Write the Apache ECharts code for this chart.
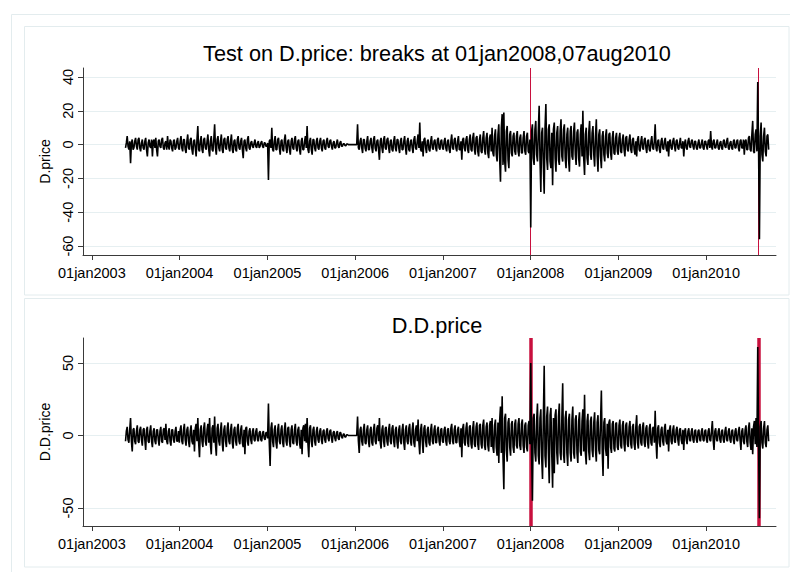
<!DOCTYPE html>
<html><head><meta charset="utf-8">
<script src="https://cdn.jsdelivr.net/npm/echarts@6/dist/echarts.min.js"></script>
<style>html,body{margin:0;padding:0;background:#fff}#c{width:790px;height:572px}</style>
</head><body><div id="c"></div>
<script>
// ---- data (samples every 3.5 days, starting 2003-05-21) ----
const startDate = [2003, 4, 21];
const stepDays = 3.5;

const dp2003 = [-2,1,5,-1,-3,2,-11,1,3,-3,-2,2,4,-1,-3,3,4,-2,-4,1,3,-2,-3,2,4,-3,-7,1,3,-1,-2,3,-7,2,3,-2,4,-3,-7,2,3,-1,-2,3,4,-2,-3,1,2,-3,5,-1,-3,3,2,-2,-4,2,3,-3,-2,2,4,-2];
const dp2004 = [-3,2,5,-2,-4,3,3,-3,-5,2,6,-2,-3,3,4,-3,-6,2,3,-2,-7,3,11,-3,-4,2,5,-3,-5,3,4,-2,-3,2,6,-3,-7,2,5,-3,-4,3,12,-2,-6,3,5,-2,-4,2,6,-3,-5,3,4,-2,-3,3,5,-2,-4,2,6,-3,-5,2,3,-3,-4,3,5,-2,-3,2,4,-3,-8,2,3,-2,-4,3,5,-2,-3,1,2,-1,-2,1,3,-1,-2,1,2,-2,-1,1,2,-1,-2,1,1,-1,-1,1];
const dp2005 = [-21,2,3,-2,10,-3,-4,2,5,-3,-3,3,4,-2,-6,2,3,-3,-4,3,6,-2,-5,2,3,-3,-6,2,4,-2,-3,3,5,-2,-4,2,3,-3,-6,2,4,-3,-3,2,5,-2,11,-3,-5,2,4,-3,-6,3,3,-2,-4,2,4,-2,-3,2,4,-2,-4,2,3,-2,-3,2,4,-1,-2,2,3,-1,-3,1,2,-2,-2,1,3,-1,-2,1,2,-1,-1,0.5,0.5,-0.4,-0.8,0.3,0.4,0,0,0,0,0,0,0,0,0];
const dp2006 = [0,0,12,-2,-3,2,4,-2,-5,3,3,-2,-4,2,5,-3,-3,2,4,-2,-5,3,5,-2,-4,2,3,-3,-9,2,4,-2,-5,3,5,-2,-3,3,4,-2,-5,2,3,-3,-4,2,5,-2,-4,3,3,-2,-5,2,4,-3,-3,2,5,-2,-6,2,4,-3,-4,2,3,-2,-5,3,5,-2,-3,2,6,-2,13,-3,-4,2,-7,3,4,-2,-5,2,3,-3,-4,2,5,-2,-3,2,3,-2,-4,3,4,-2,-3,2,3,-2];
const dp2007 = [-3,2,4,-2,-4,2,3,-3,-5,2,6,-2,-3,3,4,-2,-4,2,5,-3,-3,2,-9,3,4,-2,-4,3,5,-3,-5,3,6,-3,-4,4,7,-3,-6,4,5,-4,-7,3,6,-4,-5,4,8,-3,-6,4,7,-5,-8,4,6,-4,10,-5,-7,5,9,-6,-10,6,12,-8,-22,10,18,-12,19,-10,-16,8,11,-9,-14,6,8,-5,-7,5,7,-4,-6,5,8,-4,-7,4,6,-5,-5,4,8,-4,-6,5,7,-4,-5,3];
const dp2008 = [-49,8,12,-8,-12,9,14,-6,-10,8,23,-9,-28,7,10,-12,-29,10,24,-8,-15,9,12,-10,-14,7,-24,9,13,-8,-16,7,11,-9,-12,8,15,-7,-10,9,12,-8,-14,6,10,-9,-16,8,11,-7,-9,8,13,-6,-12,7,9,-8,-13,6,12,-7,20,-8,-18,6,10,-8,-12,7,14,-6,-9,7,11,-6,-13,5,15,-7,-16,6,9,-7,-14,5,8,-6,-10,5,9,-5,-8,6,7,-5,-9,4,8,-5,-6,4,7,-4];
const dp2009 = [-6,4,7,-4,-5,3,6,-3,-7,4,5,-3,-4,3,6,-3,-5,3,4,-3,-6,2,-7,3,5,-3,-4,2,5,-2,-3,3,4,-2,-5,2,3,-3,-4,2,5,-2,-3,2,12,-2,-4,2,3,-3,-5,2,4,-2,-3,2,4,-2,-4,2,-7,2,3,-2,-3,2,4,-1,-4,2,3,-2,-3,1,4,-2,-2,2,-7,1,3,-2,-3,2,4,-1,-2,2,3,-1,-3,2,2,-2,-3,1,3,-2,-2,1,3,-2,-3,2];
const dp2010 = [2,-1,-3,2,3,-2,8,-1,-3,2,3,-2,-2,1,3,-2,-3,1,2,-2,-3,2,3,-1,-2,2,4,-2,-3,1,2,-2,-3,2,3,-2,-2,2,3,-2,-4,2,3,-2,-2,3,-6,2,3,-3,-3,4,5,-3,-4,6,14,-4,-5,6,9,-4,37,-3,-56,5,13,-6,-10,5,10,-4,-7,5,6,-3];

const ddp2003 = [-4,3,6,-3,-5,4,12,-4,-11,4,5,-4,-6,3,7,-4,-5,4,6,-3,-7,4,5,-3,-10,4,6,-4,-5,3,7,-4,-8,3,5,-4,-6,4,4,-3,-7,3,6,-4,-5,4,5,-3,8,-4,-6,3,5,-4,-7,4,4,-3,-5,3,6,-4,-4,3];
const ddp2004 = [-5,4,7,-4,-6,4,8,-3,-7,4,6,-4,-8,3,7,-4,-6,4,-11,5,8,-4,12,-5,-15,4,7,-4,-8,5,9,-4,-7,4,8,-5,12,-6,-13,5,7,-5,13,-6,-14,5,8,-4,-7,4,9,-5,-11,4,7,-4,-8,5,9,-4,-6,4,8,-5,-9,4,6,-4,-7,5,8,-4,-6,4,7,-5,-8,4,-13,5,6,-4,-7,3,5,-3,-6,3,5,-3,-4,3,5,-3,-4,2,3,-3,-4,2,3,-2,-3,2,2,-2];
const ddp2005 = [22,-5,-21,5,9,-4,-8,4,7,-5,-9,4,8,-4,-6,4,7,-5,-8,4,9,-4,-7,5,6,-4,-8,4,7,-5,-6,4,8,-4,-7,4,6,-5,-9,4,-13,5,7,-4,8,-5,12,-6,-15,5,7,-4,-8,4,6,-4,-7,3,6,-3,-5,3,5,-3,-6,3,4,-3,-5,3,5,-2,-4,3,4,-2,-5,2,3,-2,-4,2,3,-2,-3,2,2,-1,-2,1,1,-1,-1,0.5,0.5,0,0,0,0,0,0,0,0,0];
const ddp2006 = [0,0,13,-4,-12,4,6,-4,-7,4,8,-5,-6,4,7,-4,-8,4,6,-5,-7,4,8,-4,-6,5,7,-4,12,-5,-9,4,7,-4,-8,5,6,-4,-7,4,8,-4,-6,5,7,-4,-8,4,6,-5,-9,4,7,-4,-6,4,8,-5,-10,4,7,-4,-6,5,8,-4,-7,4,9,-5,-8,4,7,-4,11,-5,-13,4,8,-4,-12,5,7,-4,-8,4,6,-5,-7,4,8,-4,-6,4,7,-5,-5,4,6,-4,-7,4,5,-4];
const ddp2007 = [-5,4,6,-4,-7,4,5,-4,-6,5,8,-4,-6,4,7,-5,-5,4,6,-4,-8,5,-15,5,8,-5,-7,5,9,-5,-8,6,7,-6,-9,5,10,-6,-8,6,9,-6,-10,7,8,-6,-9,7,11,-7,-10,6,9,-7,-11,7,10,-8,12,-8,-12,7,11,-8,-14,9,-19,10,20,-12,27,-15,-37,12,15,-10,-18,9,12,-8,-14,8,10,-8,-12,8,11,-7,-9,8,12,-7,-10,8,11,-7,-12,7,9,-8,-11,7,10,-6];
const ddp2008 = [50,-10,-45,12,15,-12,-18,10,22,-14,-20,12,18,-15,-30,12,48,-14,-22,13,20,-12,-33,14,19,-13,-36,12,-26,14,18,-12,-20,13,22,-12,-17,12,36,-13,-19,12,17,-12,-21,11,15,-12,-18,11,20,-12,-16,11,14,-12,-19,10,16,-11,-14,10,18,-11,28,-12,-20,10,15,-11,-17,10,13,-10,-15,9,16,-10,-18,9,14,-10,-13,9,31,-10,-28,9,12,-9,-14,8,-23,9,11,-8,-12,8,10,-9,-11,8,9,-8];
const ddp2009 = [-10,7,11,-7,-9,7,10,-6,-11,7,9,-6,-8,6,10,-6,-9,6,8,-6,-10,6,14,-5,-9,6,8,-5,-7,6,9,-5,-8,5,7,-5,-9,5,8,-5,-7,5,6,-5,17,-4,-16,5,7,-5,-8,4,6,-4,-7,5,8,-4,-6,4,-11,4,7,-4,-6,4,7,-4,-5,4,6,-3,-7,4,5,-3,-6,4,-10,3,5,-3,-6,3,5,-3,-4,3,5,-3,-5,3,4,-3,-5,3,4,-3,-4,3,5,-3,-4,3];
const ddp2010 = [4,-3,-5,3,5,-3,-4,3,10,-3,-10,3,5,-3,-4,3,5,-3,-5,3,4,-3,-5,3,6,-3,-4,3,5,-3,-5,3,4,-3,-6,3,5,-3,-4,3,6,-3,-10,3,5,-4,-6,4,7,-4,-8,5,9,-5,-10,5,-13,6,10,-6,12,-8,61,-6,-57,6,10,-5,-9,5,10,-5,-8,4,7,-4];

const xTickDates = ['2003-01-01','2004-01-01','2005-01-01','2006-01-01','2007-01-01','2008-01-01','2009-01-01','2010-01-01'];
const xTickLabels = ['01jan2003','01jan2004','01jan2005','01jan2006','01jan2007','01jan2008','01jan2009','01jan2010'];
const yTicksTop = [-60,-40,-20,0,20,40];
const yTicksBottom = [-50,0,50];
const breakDates = ['2008-01-01','2010-08-07'];
const titleTopText = 'Test on D.price: breaks at 01jan2008,07aug2010';
const titleBottomText = 'D.D.price';
const yNameTop = 'D.price';
const yNameBottom = 'D.D.price';

// ---- build ----
function toTime(s){const p=s.split('-');return new Date(+p[0],+p[1]-1,+p[2]).getTime();}
const dprice = [].concat(dp2003,dp2004,dp2005,dp2006,dp2007,dp2008,dp2009,dp2010);
const ddprice = [].concat(ddp2003,ddp2004,ddp2005,ddp2006,ddp2007,ddp2008,ddp2009,ddp2010);
const startTime = new Date(startDate[0], startDate[1], startDate[2]).getTime();
const timeAt = i => startTime + i * stepDays * 86400000;
const xTickTimes = xTickDates.map(toTime);
const FONT = '"Liberation Sans", Arial, Helvetica, sans-serif';
const AX = '#3a3a3a';
const GRIDC = '#E6EFF1';
const RED = '#C8103E';
const BOX = '#E3ECEE';

function labelFor(v){
  for (let k=0;k<xTickTimes.length;k++){ if (Math.abs(xTickTimes[k]-v) < 43200000) return xTickLabels[k]; }
  return '';
}
function xAxisOpt(gi){
  return {type:'value', gridIndex:gi, min:toTime('2002-11-25'), max:toTime('2010-10-19'), scale:true,
    axisLine:{show:true,onZero:false,lineStyle:{color:AX,width:1}},
    axisTick:{show:true,length:5,inside:false,customValues:xTickTimes,lineStyle:{color:AX,width:1}},
    axisLabel:{show:true,customValues:xTickTimes,formatter:labelFor,color:'#000',fontSize:14.5,fontFamily:FONT,margin:10,hideOverlap:false},
    splitLine:{show:false}, minorTick:{show:false}};
}
function yAxisOpt(gi,min,max,ticks,name){
  return {type:'value', gridIndex:gi, min:min, max:max, name:name, nameLocation:'middle', nameGap:27, nameRotate:90,
    nameTextStyle:{color:'#000',fontSize:14,fontFamily:FONT},
    axisLine:{show:true,onZero:false,lineStyle:{color:AX,width:1}},
    axisTick:{show:true,length:5,inside:false,customValues:ticks,lineStyle:{color:AX,width:1}},
    axisLabel:{show:true,customValues:ticks,rotate:90,color:'#000',fontSize:14.5,fontFamily:FONT,margin:8},
    splitLine:{show:true,lineStyle:{color:GRIDC,width:1}}};
}
function lineSeries(gi,vals,redW){
  return {type:'line', xAxisIndex:gi, yAxisIndex:gi, z:3, showSymbol:false, symbol:'none', silent:true,
    animation:false,
    data: vals.map((v,i)=>[timeAt(i), v]),
    lineStyle:{color:'#000',width:1.6,join:'bevel'}, itemStyle:{color:'#000'},
    markLine:{silent:true, z:1, symbol:['none','none'], animation:false, label:{show:false},
      lineStyle:{color:RED,width:redW,type:'solid'},
      data: breakDates.map(d=>({xAxis:toTime(d)}))}};
}

const chart = echarts.init(document.getElementById('c'), null, {renderer:'svg'});
chart.setOption({
  backgroundColor:'#fff',
  animation:false,
  title:[
    {text:titleTopText, left:437, top:42, textAlign:'center', padding:0, textStyle:{color:'#000',fontSize:21.7,fontWeight:'normal',fontFamily:FONT}},
    {text:titleBottomText, left:437, top:314, textAlign:'center', padding:0, textStyle:{color:'#000',fontSize:21.7,fontWeight:'normal',fontFamily:FONT}}
  ],
  grid:[
    {left:83, right:14, top:68, height:187, containLabel:false},
    {left:83, right:14, top:338, height:188, containLabel:false}
  ],
  xAxis:[xAxisOpt(0), xAxisOpt(1)],
  yAxis:[yAxisOpt(0,-65.3,45.3,yTicksTop,yNameTop), yAxisOpt(1,-62.4,67.2,yTicksBottom,yNameBottom)],
  series:[lineSeries(0,dprice,1), lineSeries(1,ddprice,3.5)],
  graphic:[
    {type:'rect', silent:true, z:-10, shape:{x:11.5,y:14.5,width:800,height:600}, style:{fill:'none',stroke:BOX,lineWidth:1}},
    {type:'rect', silent:true, z:-10, shape:{x:24.5,y:26.5,width:764.5,height:268.5}, style:{fill:'none',stroke:BOX,lineWidth:1}},
    {type:'rect', silent:true, z:-10, shape:{x:24.5,y:298.5,width:764.5,height:268.5}, style:{fill:'none',stroke:BOX,lineWidth:1}}
  ]
});
</script></body></html>
